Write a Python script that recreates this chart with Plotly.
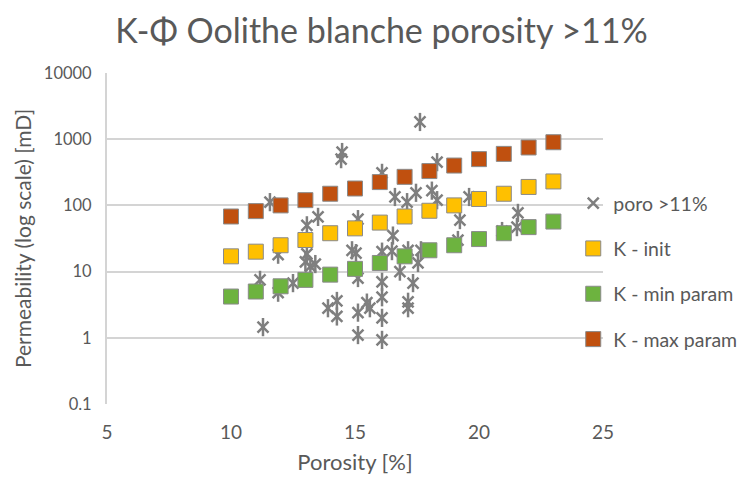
import plotly.graph_objects as go

# Model curves
phi_model = [10, 11, 12, 13, 14, 15, 16, 17, 18, 19, 20, 21, 22, 23]
k_init = [17, 20, 25, 30, 38, 45, 55, 68, 83, 100, 125, 150, 190, 230]
k_min = [4.2, 5, 6, 7.5, 9, 11, 13.5, 17, 21, 25, 31, 38, 47, 57]
k_max = [68, 82, 100, 120, 150, 180, 225, 270, 330, 400, 500, 600, 750, 900]

# Measured samples (porosity > 11%)
poro_phi = [17.62, 14.48, 14.44, 16.09, 18.31, 11.57, 16.61, 17.10, 17.46, 18.10,
            18.31, 19.60, 21.57, 13.51, 13.06, 15.12, 19.23, 16.53, 20.93, 21.53,
            19.15, 11.90, 13.06, 13.00, 13.20, 13.40, 14.88, 15.04, 16.09, 16.49,
            17.14, 17.66, 17.54, 16.81, 15.12, 16.09, 17.34, 11.17, 11.90, 12.50,
            11.29, 13.91, 14.27, 14.27, 15.12, 15.48, 15.60, 16.09, 16.09, 17.14,
            17.14, 15.12, 16.09]
poro_k = [1820, 640, 500, 310, 450, 112, 134, 112, 155, 167,
          120, 134, 77, 67, 50, 62, 60, 35, 41, 47,
          30, 18, 18.5, 14, 12, 13, 21, 19, 20, 20.4,
          21, 21, 13.5, 10, 8, 7, 6.7, 7.5, 4.8, 6.7,
          1.45, 2.8, 3.6, 2.1, 2.4, 3.4, 2.8, 4.1, 2.0, 3.5,
          2.8, 1.1, 0.93]

TXT = "#595959"
FONT = "Lato"
sq_line = dict(color="#8a8a8a", width=1)

fig = go.Figure()
fig.add_trace(go.Scatter(
    x=poro_phi, y=poro_k, mode="markers", name="poro >11%", legendgroup="a",
    marker=dict(symbol="x-thin-open", size=11, color="#7f7f7f",
                line=dict(color="#7f7f7f", width=2.5))))
fig.add_trace(go.Scatter(
    x=poro_phi, y=poro_k, mode="markers", showlegend=False, legendgroup="a",
    hoverinfo="skip",
    marker=dict(symbol="line-ns-open", size=13, color="#7f7f7f",
                line=dict(color="#7f7f7f", width=2.5))))
fig.add_trace(go.Scatter(
    x=phi_model, y=k_init, mode="markers", name="K - init", legendgroup="b",
    marker=dict(symbol="square", size=15, color="#FFC000", line=sq_line)))
fig.add_trace(go.Scatter(
    x=phi_model, y=k_min, mode="markers", name="K - min param", legendgroup="c",
    marker=dict(symbol="square", size=15, color="#6DB33F", line=sq_line)))
fig.add_trace(go.Scatter(
    x=phi_model, y=k_max, mode="markers", name="K - max param", legendgroup="d",
    marker=dict(symbol="square", size=15, color="#C0500F", line=sq_line)))

fig.update_layout(
    width=748, height=483,
    paper_bgcolor="white", plot_bgcolor="white",
    margin=dict(l=107, r=145, t=73, b=79, autoexpand=False),
    font=dict(family=FONT, color=TXT, size=17),
    title=dict(text="K-Φ Oolithe blanche porosity >11%", x=0.51, xanchor="center",
               y=0.935, yanchor="middle", font=dict(size=34, color=TXT, family=FONT)),
    showlegend=True,
    legend=dict(x=0.94, xanchor="left", y=0.665, yanchor="top",
                bgcolor="rgba(0,0,0,0)", font=dict(size=19.5, color=TXT, family=FONT),
                traceorder="grouped", tracegroupgap=17, itemwidth=30),
    xaxis=dict(range=[5, 25], tickvals=[5, 10, 15, 20, 25], showgrid=False,
               zeroline=False, showline=False, ticks="", ticklabelstandoff=15,
               tickfont=dict(size=19, color=TXT), automargin=False,
               title=dict(text="Porosity [%]", font=dict(size=22, color=TXT), standoff=12)),
    yaxis=dict(type="log", range=[-1, 4],
               tickvals=[0.1, 1, 10, 100, 1000, 10000],
               ticktext=["0.1", "1", "10", "100", "1000", "10000"],
               showgrid=True, gridcolor="#d4d4d4", gridwidth=2,
               showline=True, linecolor="#d4d4d4", linewidth=2,
               zeroline=False, ticks="", ticklabelstandoff=10, automargin=False,
               tickfont=dict(size=16.5, color=TXT),
               title=dict(text="Permeability (log scale) [mD]", font=dict(size=21, color=TXT),
                          standoff=6)),
)

fig.write_html("out.html")
